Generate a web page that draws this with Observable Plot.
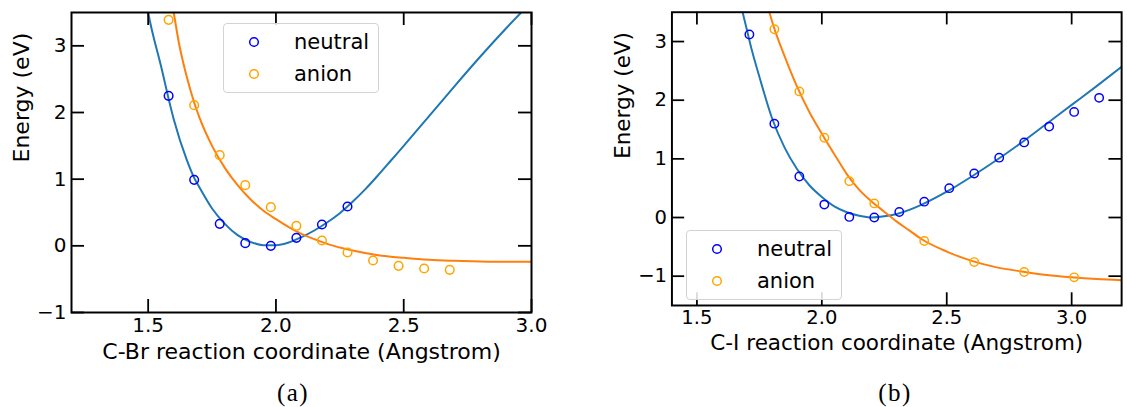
<!DOCTYPE html>
<html>
<head>
<meta charset="utf-8">
<script src="https://cdn.jsdelivr.net/npm/d3@7"></script>
<script src="https://cdn.jsdelivr.net/npm/@observablehq/plot@0.6"></script>
<style>
  html, body { margin: 0; padding: 0; background: white; }
  #wrap { position: relative; width: 1127px; height: 407px; overflow: hidden; background: white; }
  .panel { position: absolute; top: 0; }
  .legend { position: absolute; width: 156px; height: 70px; border: 1px solid #d3d3d3; border-radius: 4px;
            background: rgba(255,255,255,0.85); box-sizing: border-box; font-family: "DejaVu Sans"; font-size: 21px; color: #000; }
  .legend .item { position: absolute; left: 0; height: 24px; line-height: 24px; white-space: nowrap; }
  .legend svg { position: absolute; left: 24px; top: 6px; }
  .legend span { position: absolute; left: 70px; top: 0; }
  .cap { position: absolute; top: 381px; font-family: "Liberation Serif", serif; font-size: 25px; line-height: 24px; letter-spacing: 1.5px; transform: translateX(-50%); }
</style>
</head>
<body>
<div id="wrap"></div>
<script>
// ---------- data ----------
const seriesNames = ["neutral", "anion"];
const yLabel = "Energy (eV)";

// Panel (a): C-Br
const xLabelA = "C-Br reaction coordinate (Angstrom)";
const xTicksA = [1.5, 2.0, 2.5, 3.0];
const yTicksA = [-1, 0, 1, 2, 3];
const neutralAx = [1.58, 1.68, 1.78, 1.88, 1.98, 2.08, 2.18, 2.28];
const neutralAy = [2.25, 0.99, 0.33, 0.04, 0.00, 0.12, 0.32, 0.59];
const anionAx = [1.58, 1.68, 1.78, 1.88, 1.98, 2.08, 2.18, 2.28, 2.38, 2.48, 2.58, 2.68];
const anionAy = [3.39, 2.11, 1.36, 0.91, 0.58, 0.30, 0.08, -0.10, -0.22, -0.30, -0.34, -0.36];
const fitNeutralAx = [1.48, 1.50, 1.55, 1.60, 1.65, 1.68, 1.70, 1.75, 1.80, 1.85, 1.90, 1.95, 2.00, 2.05, 2.10, 2.15, 2.20, 2.25, 2.30, 2.35, 2.40, 2.45, 2.50, 2.60, 2.70, 2.80, 2.90, 3.00];
const fitNeutralAy = [3.95, 3.50, 2.70, 1.90, 1.30, 1.02, 0.88, 0.56, 0.33, 0.16, 0.06, 0.01, 0.01, 0.05, 0.13, 0.23, 0.35, 0.49, 0.66, 0.85, 1.06, 1.28, 1.50, 1.95, 2.40, 2.84, 3.26, 3.66];
const fitAnionAx = [1.58, 1.60, 1.62, 1.65, 1.68, 1.70, 1.75, 1.80, 1.85, 1.90, 1.95, 2.00, 2.05, 2.10, 2.15, 2.20, 2.30, 2.40, 2.50, 2.60, 2.70, 2.80, 2.90, 3.00];
const fitAnionAy = [3.95, 3.50, 3.05, 2.55, 2.15, 1.93, 1.50, 1.17, 0.91, 0.70, 0.53, 0.40, 0.28, 0.18, 0.10, 0.03, -0.07, -0.14, -0.18, -0.21, -0.225, -0.235, -0.24, -0.24];

// Panel (b): C-I
const xLabelB = "C-I reaction coordinate (Angstrom)";
const xTicksB = [1.5, 2.0, 2.5, 3.0];
const yTicksB = [-1, 0, 1, 2, 3];
const neutralBx = [1.71, 1.81, 1.91, 2.01, 2.11, 2.21, 2.31, 2.41, 2.51, 2.61, 2.71, 2.81, 2.91, 3.01, 3.11];
const neutralBy = [3.12, 1.60, 0.70, 0.22, 0.01, 0.00, 0.095, 0.27, 0.50, 0.75, 1.02, 1.28, 1.55, 1.80, 2.04];
const anionBx = [1.81, 1.91, 2.01, 2.11, 2.21, 2.41, 2.61, 2.81, 3.01];
const anionBy = [3.21, 2.15, 1.36, 0.62, 0.24, -0.40, -0.76, -0.93, -1.02];
const fitNeutralBx = [1.66, 1.68, 1.70, 1.72, 1.75, 1.80, 1.85, 1.90, 1.95, 2.00, 2.05, 2.10, 2.15, 2.20, 2.25, 2.30, 2.35, 2.40, 2.50, 2.60, 2.70, 2.80, 2.90, 3.00, 3.10, 3.20];
const fitNeutralBy = [3.90, 3.55, 3.20, 2.85, 2.40, 1.70, 1.20, 0.83, 0.55, 0.35, 0.19, 0.09, 0.03, 0.00, 0.02, 0.06, 0.13, 0.22, 0.44, 0.70, 0.98, 1.28, 1.60, 1.92, 2.24, 2.57];
const fitAnionBx = [1.77, 1.79, 1.81, 1.85, 1.90, 1.95, 2.00, 2.05, 2.10, 2.15, 2.20, 2.25, 2.30, 2.35, 2.40, 2.50, 2.60, 2.70, 2.80, 2.90, 3.00, 3.10, 3.20];
const fitAnionBy = [3.80, 3.50, 3.22, 2.76, 2.24, 1.80, 1.43, 1.08, 0.74, 0.47, 0.27, 0.10, -0.07, -0.22, -0.37, -0.58, -0.74, -0.85, -0.92, -0.98, -1.02, -1.05, -1.07];

// colours
const dotColors = ["blue", "orange"];
const lineColors = ["#1f77b4", "#ff7f0e"];

// ---------- helpers ----------
const zip = (xs, ys) => xs.map((x, i) => ({x, y: ys[i]}));

function panel({xDomain, yDomain, xTicks, yTicks, width, marginLeft, marginRight, xLabel, fits, pts}) {
  const height = 370, marginTop = 12, marginBottom = 58;
  const fh = height - marginTop - marginBottom;
  const fw = width - marginLeft - marginRight;
  const tl = 13;
  return Plot.plot({
    width, height, marginTop, marginBottom, marginLeft, marginRight,
    style: {fontFamily: "DejaVu Sans", fontSize: "20px", background: "white", color: "black", overflow: "visible"},
    x: {domain: xDomain},
    y: {domain: yDomain},
    marks: [
      ...fits.map((f, i) => Plot.line(f, {x: "x", y: "y", stroke: lineColors[i], strokeWidth: 2, curve: "monotone-x", clip: true})),
      ...pts.map((p, i) => Plot.dot(p, {x: "x", y: "y", r: 4.3, stroke: dotColors[i], fill: "none", strokeWidth: 1.5})),
      Plot.tickX(xTicks, {x: d => d, insetTop: fh - tl, stroke: "black", strokeWidth: 1.8}),
      Plot.tickX(xTicks, {x: d => d, insetBottom: fh - tl, stroke: "black", strokeWidth: 1.8}),
      Plot.tickY(yTicks, {y: d => d, insetRight: fw - tl, stroke: "black", strokeWidth: 1.8}),
      Plot.tickY(yTicks, {y: d => d, insetLeft: fw - tl, stroke: "black", strokeWidth: 1.8}),
      Plot.axisX({ticks: xTicks, tickSize: 0, tickPadding: 5, tickFormat: d3.format(".1f"), label: null}),
      Plot.axisY({ticks: yTicks, tickSize: 0, tickPadding: 5, tickFormat: d3.format("d"), label: null}),
      Plot.frame({stroke: "black", strokeWidth: 2}),
      Plot.text([xLabel], {text: d => d, frameAnchor: "bottom", dy: 46, fontSize: 22}),
      Plot.text([yLabel], {text: d => d, frameAnchor: "left", dx: -50, rotate: -90, fontSize: 22})
    ]
  });
}

function legend(left, top) {
  const div = document.createElement("div");
  div.className = "legend";
  div.style.left = left + "px";
  div.style.top = top + "px";
  const rowsY = [6, 37.5];
  seriesNames.forEach((name, i) => {
    const it = document.createElement("div");
    it.className = "item";
    it.style.top = rowsY[i] + "px";
    it.style.width = "150px";
    it.innerHTML = `<svg width="12" height="12"><circle cx="6" cy="6" r="4.3" fill="none" stroke="${dotColors[i]}" stroke-width="1.5"/></svg><span>${name}</span>`;
    div.appendChild(it);
  });
  return div;
}

function caption(text, cx) {
  const d = document.createElement("div");
  d.className = "cap";
  d.style.left = cx + "px";
  d.textContent = text;
  return d;
}

// ---------- build ----------
const wrap = document.getElementById("wrap");

const pa = panel({
  xDomain: [1.2, 3.0], yDomain: [-1, 3.5], xTicks: xTicksA, yTicks: yTicksA,
  width: 560, marginLeft: 71, marginRight: 29, xLabel: xLabelA,
  fits: [zip(fitNeutralAx, fitNeutralAy), zip(fitAnionAx, fitAnionAy)],
  pts: [zip(neutralAx, neutralAy), zip(anionAx, anionAy)]
});
const da = document.createElement("div");
da.className = "panel"; da.style.left = "0px";
da.appendChild(pa);
wrap.appendChild(da);

const pb = panel({
  xDomain: [1.4, 3.2], yDomain: [-1.5, 3.5], xTicks: xTicksB, yTicks: yTicksB,
  width: 580, marginLeft: 114, marginRight: 6, xLabel: xLabelB,
  fits: [zip(fitNeutralBx, fitNeutralBy), zip(fitAnionBx, fitAnionBy)],
  pts: [zip(neutralBx, neutralBy), zip(anionBx, anionBy)]
});
const db = document.createElement("div");
db.className = "panel"; db.style.left = "560px";
db.appendChild(pb);
wrap.appendChild(db);

wrap.appendChild(legend(223, 23));
wrap.appendChild(legend(686, 230));
wrap.appendChild(caption("(a)", 293));
wrap.appendChild(caption("(b)", 895));
</script>
</body>
</html>
